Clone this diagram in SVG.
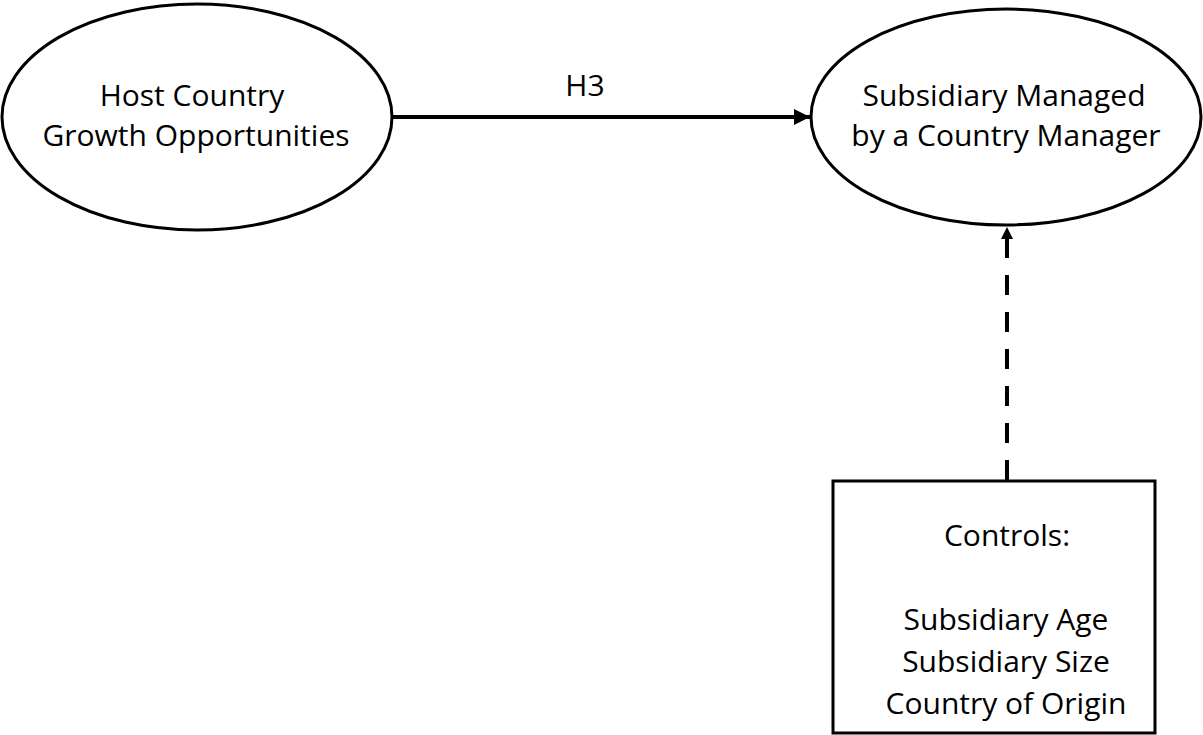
<svg xmlns="http://www.w3.org/2000/svg" width="1203" height="735" viewBox="0 0 1203 735">
<style>
.shape{fill:#fff;stroke:#000;stroke-width:3}
.t{font-family:"Open Sans","Noto Sans",sans-serif;font-size:30px;fill:#000;text-anchor:middle}
.conn{fill:none;stroke:#000;stroke-width:4}
</style>
<defs>
<marker id="ah" viewBox="0 0 10 10" refX="10" refY="5" markerWidth="4" markerHeight="4" orient="auto" markerUnits="strokeWidth">
<path d="M0,0 L10,5 L0,10 z" fill="#000"/>
</marker>
<marker id="ah2" viewBox="0 0 10 10" refX="10" refY="5" markerWidth="3" markerHeight="3" orient="auto" markerUnits="strokeWidth">
<path d="M0,0 L10,5 L0,10 z" fill="#000"/>
</marker>
</defs>
<rect width="1203" height="735" fill="#fff"/>
<g id="connectors">
<line class="conn" x1="393" y1="117" x2="810" y2="117" marker-end="url(#ah)"/>
<text class="t" x="585" y="96">H3</text>
<line class="conn" x1="1007" y1="480" x2="1007" y2="227" stroke-width="6" stroke-dasharray="20 17" marker-end="url(#ah2)"/>
</g>
<g id="node-host">
<ellipse class="shape" cx="197" cy="117" rx="195" ry="113"/>
<text class="t" x="192" y="106">Host Country</text>
<text class="t" x="196" y="146">Growth Opportunities</text>
</g>
<g id="node-subsidiary">
<ellipse class="shape" cx="1006" cy="117" rx="195" ry="108"/>
<text class="t" x="1004" y="106">Subsidiary Managed</text>
<text class="t" x="1006" y="146">by a Country Manager</text>
</g>
<g id="node-controls">
<rect class="shape" x="833" y="481" width="322" height="252"/>
<text class="t" x="1007" y="546">Controls:</text>
<text class="t" x="1006" y="630">Subsidiary Age</text>
<text class="t" x="1006" y="672">Subsidiary Size</text>
<text class="t" x="1006" y="714">Country of Origin</text>
</g>
</svg>
